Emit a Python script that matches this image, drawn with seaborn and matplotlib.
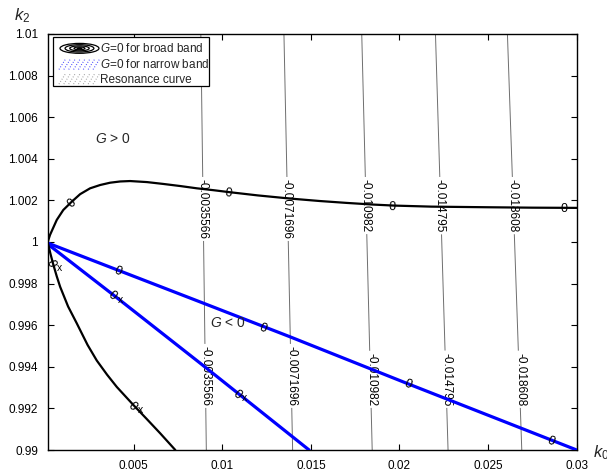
import numpy as np
import pandas as pd
import seaborn as sns
import matplotlib
matplotlib.use("Agg")
import matplotlib.pyplot as plt
from matplotlib.legend_handler import HandlerBase
from matplotlib.patches import Ellipse, Rectangle
from matplotlib.lines import Line2D

# ---------------- data ----------------
# G=0 for broad band: upper branch
broad_up_k0 = [0.00015, 0.00028, 0.00066, 0.00103, 0.00151, 0.00198, 0.00254, 0.00311,
               0.00367, 0.00424, 0.0048, 0.00575, 0.00668, 0.00763, 0.00857, 0.00951,
               0.01036, 0.0120, 0.0138, 0.0155, 0.0170, 0.0185, 0.0197, 0.0218,
               0.0250, 0.0275, 0.0300]
broad_up_k2 = [1.0000, 1.00034, 1.00106, 1.00154, 1.00194, 1.0023, 1.00258, 1.00274,
               1.00285, 1.00291, 1.00293, 1.00288, 1.00279, 1.00269, 1.00258, 1.00249,
               1.00240, 1.00224, 1.00209, 1.00197, 1.00188, 1.00180, 1.00175, 1.00170,
               1.00167, 1.00165, 1.00164]
# G=0 for broad band: lower branch
broad_lo_k0 = [0.00015, 0.0003, 0.00047, 0.00066, 0.00085, 0.0013, 0.00179, 0.0024,
               0.00292, 0.0035, 0.00405, 0.0050, 0.00575, 0.0065, 0.00735]
broad_lo_k2 = [1.0000, 0.99945, 0.99890, 0.99835, 0.99785, 0.99690, 0.99609, 0.99505,
               0.99430, 0.99362, 0.99303, 0.99215, 0.99148, 0.99080, 0.9900]
# G=0 for narrow band (two blue lines)
narrow_a_k0 = [0.00015, 0.0041, 0.0089, 0.0138, 0.0204, 0.0300]
narrow_a_k2 = [0.99995, 0.99865, 0.99707, 0.99545, 0.99321, 0.9900]
narrow_b_k0 = [0.00015, 0.00386, 0.00876, 0.0149]
narrow_b_k2 = [0.9999, 0.99745, 0.99417, 0.9900]

# grey contour levels (nearly vertical lines)
level_labels = ["-0.0035566", "-0.0071696", "-0.010982", "-0.014795", "-0.018608"]
level_k0_top = [0.00879, 0.01348, 0.01787, 0.02203, 0.02609]   # at k2 = 1.01
level_k0_bot = [0.00910, 0.01397, 0.01846, 0.02274, 0.02690]   # at k2 = 0.99
label_top_k2 = 1.00303   # top edge of upper labels
label_bot_k2 = 0.99212   # bottom edge of lower labels

# "0" labels sitting on the G=0 curves
zero_broad_up = ([0.00147, 0.01034, 0.01960, 0.02927], [1.0019, 1.0024, 1.00174, 1.00164])
zero_broad_lo = ([0.00040, 0.00497], [0.99900, 0.99216])
zero_narrow_a = ([0.00414, 0.01230, 0.02049, 0.02859], [0.99865, 0.99590, 0.99320, 0.99050])
zero_narrow_b = ([0.00384, 0.01087], [0.99745, 0.99271])

x_ticks = [0.005, 0.01, 0.015, 0.02, 0.025, 0.03]
x_tick_labels = ["0.005", "0.01", "0.015", "0.02", "0.025", "0.03"]
y_ticks = [0.99, 0.992, 0.994, 0.996, 0.998, 1.0, 1.002, 1.004, 1.006, 1.008, 1.01]
y_tick_labels = ["0.99", "0.992", "0.994", "0.996", "0.998", "1",
                 "1.002", "1.004", "1.006", "1.008", "1.01"]
legend_labels = ["$G$=0 for broad band", "$G$=0 for narrow band", "Resonance curve"]

# ---------------- style ----------------
sns.set_style("ticks")
plt.rcParams["font.family"] = ["Liberation Sans", "DejaVu Sans"]
plt.rcParams["mathtext.fontset"] = "custom"
plt.rcParams["mathtext.rm"] = "Liberation Sans"
plt.rcParams["mathtext.it"] = "Liberation Sans:italic"

W, H = 607, 472
fig = plt.figure(figsize=(W / 100, H / 100), dpi=100)
ax = fig.add_axes([0.0786, 0.0466, 0.8715, 0.8814])
ax.set_xlim(0.00015, 0.03)
ax.set_ylim(0.99, 1.01)

FS = 8.5

# ---------------- grey contour lines with inline labels ----------------
texts = []
for lab, xt, xb in zip(level_labels, level_k0_top, level_k0_bot):
    xu = np.interp(label_top_k2, [0.99, 1.01], [xb, xt])
    xl = np.interp(label_bot_k2, [0.99, 1.01], [xb, xt])
    t1 = ax.text(xu, label_top_k2, lab, rotation=270, ha="center", va="top",
                 fontsize=FS, color="black", zorder=2)
    t2 = ax.text(xl, label_bot_k2, lab, rotation=270, ha="center", va="bottom",
                 fontsize=FS, color="black", zorder=2)
    texts.append((t1, t2))

fig.canvas.draw()
renderer = fig.canvas.get_renderer()
inv = ax.transData.inverted()
gap_pad = 2.0  # px
for (t1, t2), xt, xb in zip(texts, level_k0_top, level_k0_bot):
    bb1 = t1.get_window_extent(renderer)
    bb2 = t2.get_window_extent(renderer)
    y1a = inv.transform((0, bb1.y0 - gap_pad))[1]
    y1b = inv.transform((0, bb1.y1 + gap_pad))[1]
    y2a = inv.transform((0, bb2.y0 - gap_pad))[1]
    y2b = inv.transform((0, bb2.y1 + gap_pad))[1]
    for ya, yb in [(0.99, y2a), (y2b, y1a), (y1b, 1.01)]:
        ys = np.array([ya, yb])
        xs = np.interp(ys, [0.99, 1.01], [xb, xt])
        ax.plot(xs, ys, color="#6e6e6e", lw=0.7, zorder=1, solid_capstyle="butt")

# ---------------- G=0 curves ----------------
sns.lineplot(x=narrow_a_k0, y=narrow_a_k2, sort=False, estimator=None, color="#0000ff",
             lw=2.3, ax=ax, zorder=3)
sns.lineplot(x=narrow_b_k0, y=narrow_b_k2, sort=False, estimator=None, color="#0000ff",
             lw=2.3, ax=ax, zorder=3)
sns.lineplot(x=broad_up_k0, y=broad_up_k2, sort=False, estimator=None, color="black",
             lw=1.6, ax=ax, zorder=4)
sns.lineplot(x=broad_lo_k0, y=broad_lo_k2, sort=False, estimator=None, color="black",
             lw=1.6, ax=ax, zorder=4)
for ln in ax.get_lines():
    ln.set_solid_joinstyle("round")


def put_zeros(pts, cx, cy, with_x):
    half_h = 0.36 * 9.0  # half of the digit height, in points
    for x, y in zip(*pts):
        dx = 0.0004
        y1 = np.interp(x - dx, cx, cy)
        y2 = np.interp(x + dx, cx, cy)
        p1 = ax.transData.transform((x - dx, y1))
        p2 = ax.transData.transform((x + dx, y2))
        a = np.arctan2(p2[1] - p1[1], p2[0] - p1[0])
        off = (np.sin(a) * half_h, -np.cos(a) * half_h)
        ax.annotate("0", (x, y), xytext=off, textcoords="offset points",
                    rotation=np.degrees(a), rotation_mode="anchor", ha="center",
                    va="baseline", fontsize=9, color="black", zorder=5)
        if with_x:
            ax.annotate("x", (x, y), xytext=(5, -3.5), textcoords="offset points",
                        ha="center", va="center", fontsize=7.5, color="black", zorder=5)


put_zeros(zero_broad_up, broad_up_k0, broad_up_k2, False)
put_zeros(zero_broad_lo, broad_lo_k0, broad_lo_k2, True)
put_zeros(zero_narrow_a, narrow_a_k0, narrow_a_k2, False)
put_zeros(zero_narrow_b, narrow_b_k0, narrow_b_k2, True)

# ---------------- region annotations ----------------
ax.text(0.0038, 1.00495, "$G$ > 0", ha="center", va="center", fontsize=10)
ax.text(0.0103, 0.99611, "$G$ < 0", ha="center", va="center", fontsize=10)

# ---------------- axes cosmetics ----------------
ax.set_xticks(x_ticks)
ax.set_xticklabels(x_tick_labels)
ax.set_yticks(y_ticks)
ax.set_yticklabels(y_tick_labels)
ax.tick_params(direction="in", top=True, right=True, length=4, width=0.8,
               labelsize=FS, pad=7, color="black", labelcolor="black")
for s in ax.spines.values():
    s.set_visible(True)
    s.set_linewidth(1.0)
    s.set_color("black")
ax.set_xlabel("")
ax.set_ylabel("")

fig.text(14 / W, 1 - 16 / H, "$k_2$", fontsize=12, ha="left", va="center")
fig.text(593 / W, 1 - 453 / H, "$k_0$", fontsize=12, ha="left", va="center")


# ---------------- legend ----------------
class RingsHandler(HandlerBase):
    def create_artists(self, legend, orig_handle, xdescent, ydescent, width, height,
                       fontsize, trans):
        cx = width / 2 - xdescent
        cy = height / 2 - ydescent
        arts = []
        for f in [1.0, 0.74, 0.5, 0.28, 0.12]:
            e = Ellipse((cx, cy), width * f, height * 1.2 * f, fill=False,
                        ec="black", lw=0.9)
            e.set_transform(trans)
            arts.append(e)
        return arts


class DotsHandler(HandlerBase):
    def __init__(self, color):
        super().__init__()
        self.color = color

    def create_artists(self, legend, orig_handle, xdescent, ydescent, width, height,
                       fontsize, trans):
        arts = []
        n = 8
        for j in range(n):
            x0 = -xdescent + width * (j + 0.5) / n
            xs = [x0 - 2.5, x0, x0 + 2.5]
            ys = [-ydescent - 1, -ydescent + height / 2, -ydescent + height + 1]
            ln = Line2D(xs, ys, color=self.color, ls=(0, (0.8, 1.6)), lw=0.8)
            ln.set_transform(trans)
            arts.append(ln)
        return arts


def ax_frac(px, py):
    return ((px - 47.7) / (577.0 - 47.7), (450.0 - py) / (450.0 - 34.0))


handles = [Line2D([], []), Line2D([], []), Line2D([], [])]
leg = ax.legend(handles, legend_labels,
                handler_map={handles[0]: RingsHandler(),
                             handles[1]: DotsHandler("#3a3aff"),
                             handles[2]: DotsHandler("#9a9a9a")},
                loc="upper left", bbox_to_anchor=ax_frac(60.0, 42.5), borderaxespad=0,
                frameon=False, fontsize=FS, handlelength=3.3, handletextpad=0.05,
                labelspacing=0.22, borderpad=0)
leg.set_zorder(11)

# legend frame drawn to the reference's box
x0, y0 = ax_frac(53.3, 86.0)
x1, y1 = ax_frac(209.5, 37.0)
box = Rectangle((x0, y0), x1 - x0, y1 - y0, transform=ax.transAxes, fc="white",
                ec="black", lw=0.9, zorder=10)
ax.add_patch(box)

fig.savefig("out.png", dpi=100)
